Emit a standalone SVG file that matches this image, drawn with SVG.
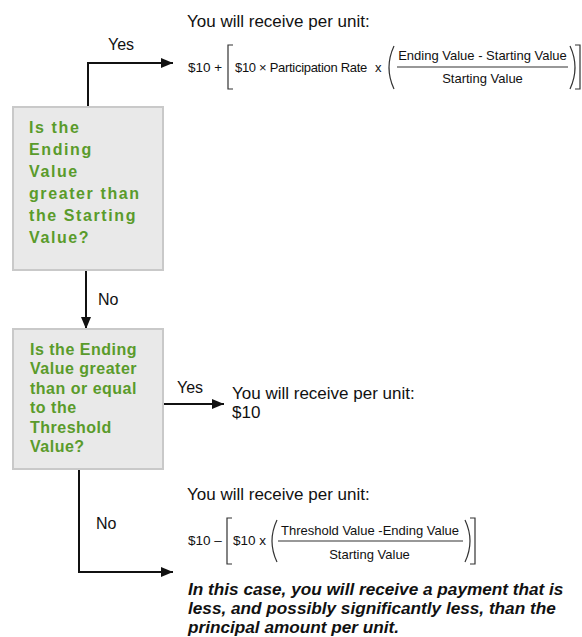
<svg xmlns="http://www.w3.org/2000/svg" width="582" height="637" viewBox="0 0 582 637">
<style>
.box{fill:#e9e9e9;stroke:#c9c9c9;stroke-width:2}
.q{font-family:"Liberation Sans",Arial,sans-serif;font-weight:bold;font-size:16px;fill:#5a9b2b}
.q1{letter-spacing:1.6px}
.q2{letter-spacing:0.5px}
.lbl{font-family:"Liberation Sans",Arial,sans-serif;font-size:16px;fill:#111}
.t{font-family:"Liberation Sans",Arial,sans-serif;font-size:17px;fill:#111}
.f{font-family:"Liberation Sans",Arial,sans-serif;font-size:13px;fill:#111}
.it{font-family:"Liberation Sans",Arial,sans-serif;font-size:17.2px;font-weight:bold;font-style:italic;fill:#111}
.conn{fill:none;stroke:#111;stroke-width:2}
.d{fill:none;stroke:#333;stroke-width:1.2}
</style>
<defs>
<marker id="ah" viewBox="0 0 12 10" refX="12" refY="5" markerWidth="12" markerHeight="10" markerUnits="userSpaceOnUse" orient="auto">
<path d="M0,0 L12,5 L0,10 z" fill="#111"/>
</marker>
</defs>

<g id="connectors">
<path class="conn" d="M88 107 V63 H173" marker-end="url(#ah)"/>
<path class="conn" d="M86 270 V329" marker-end="url(#ah)"/>
<path class="conn" d="M163 404 H224" marker-end="url(#ah)"/>
<path class="conn" d="M79 469 V572 H173" marker-end="url(#ah)"/>
<text class="lbl" x="108" y="50">Yes</text>
<text class="lbl" x="98" y="305">No</text>
<text class="lbl" x="177" y="393">Yes</text>
<text class="lbl" x="96" y="529">No</text>
</g>

<g id="q1">
<rect class="box" x="13" y="107" width="150" height="163"/>
<text class="q q1" x="29">
<tspan x="29" y="132.5">Is the</tspan>
<tspan x="29" y="154.5">Ending</tspan>
<tspan x="29" y="176.5">Value</tspan>
<tspan x="29" y="198.5">greater than</tspan>
<tspan x="29" y="221">the Starting</tspan>
<tspan x="29" y="243">Value?</tspan>
</text>
</g>

<g id="q2">
<rect class="box" x="13" y="329" width="150" height="140"/>
<text class="q q2" x="30">
<tspan x="30" y="354.5">Is the Ending</tspan>
<tspan x="30" y="374">Value greater</tspan>
<tspan x="30" y="393.5">than or equal</tspan>
<tspan x="30" y="413">to the</tspan>
<tspan x="30" y="432.5">Threshold</tspan>
<tspan x="30" y="452">Value?</tspan>
</text>
</g>

<g id="result-yes1">
<text class="t" x="187" y="27">You will receive per unit:</text>
<text class="f" x="188" y="72" style="font-size:13.5px">$10 +</text>
<path class="d" d="M233 45 H228 V89 H233"/>
<text class="f" x="235" y="72" style="letter-spacing:-0.3px">$10 × Participation Rate</text>
<text class="f" x="375" y="72">x</text>
<path class="d" d="M394 46 Q384 67.5 394 89"/>
<text class="f" x="482.5" y="60" text-anchor="middle">Ending Value  - Starting Value</text>
<line class="d" x1="397" y1="67" x2="568" y2="67"/>
<text class="f" x="482.5" y="83" text-anchor="middle">Starting Value</text>
<path class="d" d="M570 46 Q580 67.5 570 89"/>
<path class="d" d="M575 45 H580 V89 H575"/>
</g>

<g id="result-yes2">
<text class="t" x="232" y="399">You will receive per unit:</text>
<text class="t" x="232" y="418">$10</text>
</g>

<g id="result-no">
<text class="t" x="187" y="500">You will receive per unit:</text>
<text class="f" x="188" y="545" style="font-size:13.5px">$10 –</text>
<path class="d" d="M232 518 H227 V564 H232"/>
<text class="f" x="233" y="545" style="font-size:13.5px">$10 x</text>
<path class="d" d="M277 520 Q267 541 277 562"/>
<text class="f" x="370" y="535" text-anchor="middle">Threshold  Value -Ending Value</text>
<line class="d" x1="278" y1="541" x2="463" y2="541"/>
<text class="f" x="369.5" y="559" text-anchor="middle">Starting Value</text>
<path class="d" d="M465 520 Q475 541 465 562"/>
<path class="d" d="M470 518 H475 V564 H470"/>
<text class="it">
<tspan x="188" y="595">In this case, you will receive a payment that is</tspan>
<tspan x="188" y="614">less, and possibly significantly less, than the</tspan>
<tspan x="188" y="632.5">principal amount per unit.</tspan>
</text>
</g>
</svg>
